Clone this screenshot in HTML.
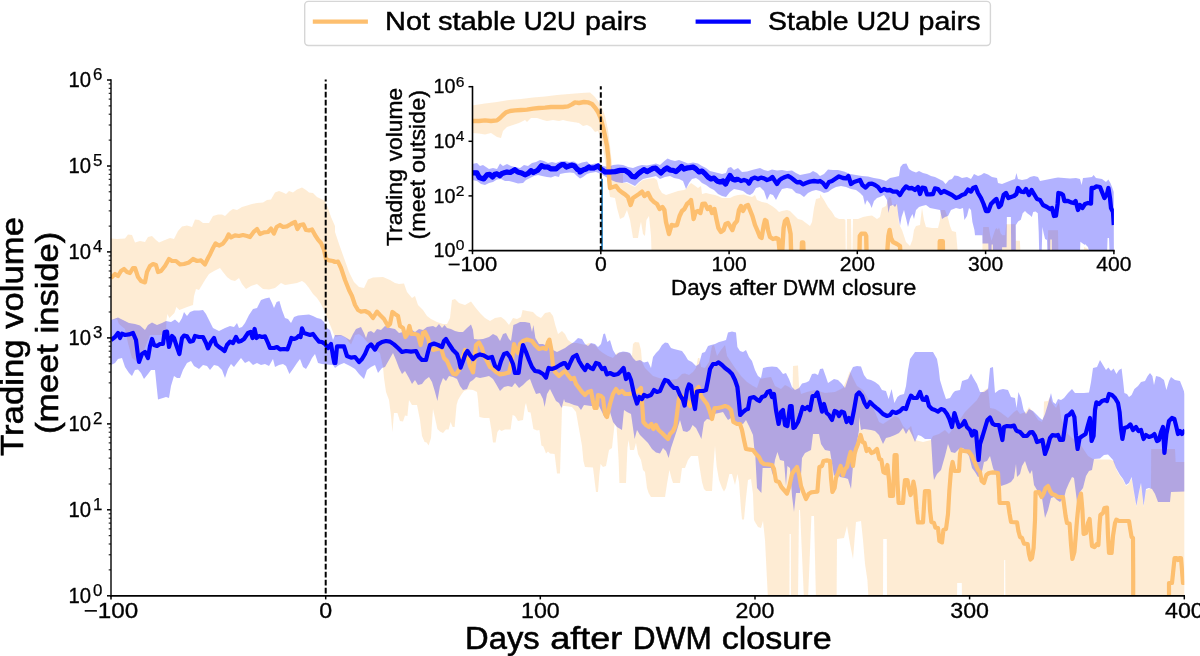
<!DOCTYPE html>
<html><head><meta charset="utf-8"><title>Trading volume</title>
<style>html,body{margin:0;padding:0;background:#fff;overflow:hidden}svg{display:block}text{font-family:"Liberation Sans",sans-serif;fill:#000}</style>
</head><body>
<svg width="1200" height="656" viewBox="0 0 1200 656">
<rect x="0" y="0" width="1200" height="656" fill="#fff"/>
<g opacity="0.9999">
<defs><clipPath id="cm"><rect x="111.0" y="78.0" width="1073.3" height="517.8"/></clipPath>
<clipPath id="ci"><rect x="472.5" y="84.7" width="641.4" height="165.9"/></clipPath></defs>
<g clip-path="url(#cm)">
<polygon points="111.0,238.4 117.0,239.0 125.0,238.6 128.0,234.4 132.0,235.0 135.0,242.4 140.0,241.0 145.0,242.0 148.0,237.0 152.0,236.0 156.0,240.0 159.0,242.4 165.0,240.0 170.0,238.0 174.0,239.0 178.0,231.0 182.0,226.4 187.0,225.6 192.0,227.0 195.0,219.6 199.0,220.0 203.0,223.0 209.0,223.0 213.0,216.0 218.0,214.4 222.0,214.4 225.0,216.0 230.0,211.0 233.0,209.0 237.0,210.0 242.0,207.0 247.0,205.6 252.0,204.0 257.0,203.0 263.0,202.4 267.0,200.0 271.0,199.4 275.0,192.4 279.0,191.0 283.0,192.4 286.0,194.0 289.0,191.0 293.0,192.4 297.0,189.6 302.0,187.6 306.0,190.0 309.0,192.4 313.0,193.0 317.0,197.0 322.0,199.4 325.0,201.0 328.0,208.0 331.0,217.0 335.0,226.0 335.0,232.0 339.0,244.0 344.0,258.0 349.0,272.0 354.0,282.0 359.0,287.0 364.0,288.0 368.0,279.6 373.0,277.6 383.0,277.0 390.0,280.0 395.0,283.0 399.0,284.0 404.0,283.6 407.0,292.0 412.0,298.0 415.0,296.0 418.0,305.0 423.0,310.0 427.0,316.0 431.0,319.0 437.0,322.0 443.0,324.0 447.0,324.0 450.0,318.0 452.0,300.0 455.0,299.0 459.0,303.0 465.0,305.0 471.0,301.6 475.0,307.0 480.0,313.0 485.0,318.0 490.0,321.0 495.0,318.0 501.0,317.0 505.0,320.0 509.0,325.0 513.0,318.0 517.0,319.0 521.0,317.0 522.6,310.0 527.0,311.0 533.0,312.0 537.0,316.0 541.0,318.0 545.0,313.0 550.0,312.0 553.0,316.0 555.0,324.0 558.0,334.0 562.0,331.0 565.0,334.0 568.0,340.0 572.0,343.0 577.0,343.0 585.0,345.0 589.0,343.0 595.0,345.0 599.0,350.0 603.0,353.0 608.0,356.0 613.0,358.0 617.0,353.0 621.0,352.4 625.0,352.0 629.0,353.0 632.0,356.0 633.0,344.0 635.0,342.0 639.0,342.4 641.0,350.0 642.0,362.0 645.0,368.0 649.0,372.0 653.0,376.0 659.0,378.0 665.0,380.0 671.0,380.0 677.0,379.0 682.0,374.0 685.0,373.6 689.0,375.0 693.0,372.0 696.0,368.0 698.0,358.0 699.4,358.0 701.0,367.0 705.0,368.0 709.0,362.0 712.0,346.0 714.0,345.0 717.0,356.0 721.0,350.0 725.0,345.0 727.0,356.0 731.0,362.0 735.0,368.0 741.0,376.0 747.0,382.0 753.0,386.0 757.0,388.0 760.0,379.0 765.0,378.0 771.0,377.0 775.0,386.0 781.0,389.0 785.0,385.0 789.0,387.0 792.6,390.0 793.0,366.0 798.0,365.6 799.0,386.0 801.0,394.0 807.0,392.0 815.0,390.0 825.0,393.0 835.0,392.0 843.0,388.0 847.0,379.0 850.0,371.0 852.0,376.0 857.0,386.0 863.0,390.0 869.0,400.0 875.0,412.0 879.0,422.0 883.0,424.0 889.0,420.0 895.0,416.0 899.0,418.0 903.0,426.0 907.0,430.0 911.0,426.0 915.0,440.0 923.0,442.0 931.0,440.0 933.0,436.0 939.0,434.0 945.0,430.0 949.0,434.0 955.0,426.0 961.0,418.0 965.0,412.0 971.0,406.0 977.0,400.0 981.0,393.0 985.0,390.0 988.0,388.0 988.0,388.0 990.0,408.0 995.0,409.0 1000.0,412.0 1008.0,418.0 1014.0,412.0 1017.0,410.0 1020.0,414.0 1026.0,412.0 1029.0,407.0 1033.0,412.0 1038.0,420.0 1042.0,422.0 1043.6,416.0 1044.0,401.6 1048.0,401.0 1050.0,397.0 1052.0,403.0 1056.0,408.0 1059.0,402.0 1061.0,418.0 1064.0,426.0 1068.0,434.0 1072.0,438.0 1080.0,444.0 1088.0,456.0 1093.0,459.0 1100.0,459.6 1110.0,459.6 1114.0,461.0 1116.0,469.0 1120.0,476.0 1123.0,480.0 1126.0,486.0 1129.0,484.0 1131.6,478.0 1134.0,493.0 1136.4,507.0 1139.0,493.0 1141.0,484.0 1143.6,507.0 1146.0,490.0 1149.0,489.0 1151.0,488.0 1151.2,449.0 1175.0,449.0 1175.6,462.0 1185.0,462.0 1185.0,600.0 1005.4,600.0 1005.2,560.0 1004.2,560.0 1004.0,600.0 962.0,600.0 961.8,583.0 957.2,583.0 957.0,600.0 887.0,600.0 886.8,539.0 883.2,539.0 883.0,600.0 868.6,600.0 867.4,580.0 865.0,564.0 863.0,540.0 861.0,521.0 856.0,522.0 853.0,559.0 850.0,544.0 847.0,526.0 844.0,538.0 837.0,539.0 836.6,600.0 816.0,600.0 814.0,516.0 811.4,516.0 808.0,600.0 804.0,600.0 800.0,510.0 799.0,510.0 798.0,600.0 791.0,600.0 790.8,534.0 789.6,534.0 789.4,600.0 768.0,600.0 767.0,580.0 765.0,540.0 763.0,521.0 761.0,528.0 758.0,527.0 755.0,522.0 754.0,520.0 753.0,494.0 751.0,479.0 748.0,480.0 746.0,498.0 744.0,519.6 742.0,519.6 741.0,509.0 739.0,482.0 737.4,474.0 735.0,485.0 732.0,474.0 729.4,474.0 726.0,488.0 724.0,491.6 722.0,488.0 719.0,480.0 716.6,466.0 715.0,446.0 713.4,466.0 712.0,491.0 706.0,491.0 704.0,489.0 702.0,482.0 699.4,466.0 698.0,456.0 691.0,456.0 688.0,460.0 685.0,468.0 682.0,468.0 680.0,483.0 673.0,483.0 671.4,478.0 669.4,470.0 667.0,484.0 665.0,497.0 651.0,497.0 648.6,493.0 647.0,488.0 645.0,472.0 643.0,470.0 641.0,460.0 638.0,454.0 636.0,443.0 634.0,450.0 630.0,450.0 628.6,440.0 627.4,448.0 626.0,483.0 619.4,483.0 618.6,460.0 616.6,427.0 614.6,424.0 612.0,448.0 609.0,450.0 606.0,466.0 603.0,467.0 600.6,464.0 599.4,474.0 598.0,492.0 596.0,492.0 595.0,484.0 593.0,467.6 585.0,467.0 583.4,461.0 582.0,446.0 579.0,429.0 576.0,412.0 572.0,407.0 565.0,406.0 563.0,406.0 562.0,408.0 560.0,473.6 557.0,473.6 554.6,454.0 550.0,453.6 548.0,451.6 546.0,453.6 543.4,446.4 541.4,445.6 539.4,430.0 537.0,430.4 533.4,429.0 530.6,412.4 528.0,412.0 526.0,403.0 525.0,406.0 523.0,420.0 518.0,421.0 515.0,416.0 512.6,415.0 510.6,429.6 505.0,429.6 501.4,431.0 499.4,429.6 497.4,432.0 495.6,442.4 493.0,442.4 491.4,430.0 489.4,418.0 484.0,418.0 479.4,417.0 478.0,400.0 477.0,392.0 473.0,390.0 468.0,389.6 464.0,391.0 461.0,395.0 458.0,400.0 456.6,405.0 454.6,427.0 452.6,427.0 450.6,422.0 448.6,429.6 446.0,429.6 443.0,433.0 440.0,431.6 437.4,429.0 435.0,418.0 433.0,409.0 431.0,438.0 428.6,445.6 426.6,442.4 424.6,442.0 422.0,436.0 420.0,420.0 417.0,405.0 412.0,405.0 409.0,400.0 407.4,416.0 405.0,415.6 403.0,421.6 400.0,421.0 397.4,413.0 394.0,413.0 392.4,432.0 391.0,416.0 389.0,400.0 386.0,392.0 384.0,378.0 383.0,367.0 380.0,353.0 375.0,350.0 371.0,346.0 367.0,342.0 363.0,337.0 359.0,334.0 355.0,335.0 351.0,344.4 346.0,338.0 341.0,335.6 335.0,337.0 324.0,310.0 321.0,304.0 317.0,298.0 313.0,294.0 309.0,288.0 305.0,283.0 302.0,281.0 297.0,283.0 291.0,284.0 285.0,285.0 281.0,283.0 275.0,288.0 269.0,289.6 263.0,289.0 257.0,284.0 251.0,286.0 246.0,289.0 242.0,284.0 239.0,278.0 235.0,281.0 231.0,280.0 227.0,277.0 223.0,272.0 220.0,268.0 214.0,271.0 209.0,274.0 205.0,280.0 202.0,285.0 199.0,290.0 196.0,289.0 194.0,296.0 193.0,305.0 188.5,306.5 179.4,310.0 176.4,307.0 174.4,313.0 169.4,318.0 167.4,314.0 166.4,320.6 166.0,335.0 160.0,335.0 150.0,335.0 146.0,345.0 139.0,363.0 135.0,360.0 132.0,358.0 128.0,343.0 125.0,329.0 119.0,324.0 117.0,319.0 111.0,320.0" fill="#fdbf6f" fill-opacity="0.3"/>
<polygon points="111.0,320.0 118.0,317.6 123.0,320.0 129.0,323.0 135.0,324.0 140.0,325.6 145.0,330.0 148.0,325.0 152.0,322.4 157.0,325.0 162.0,323.0 166.0,321.0 171.0,322.0 175.0,319.6 179.0,323.0 182.0,318.0 184.0,312.0 187.0,316.0 190.0,312.0 194.0,310.4 199.0,310.6 203.0,310.0 206.0,314.0 209.0,320.0 213.0,328.0 219.0,331.0 225.0,328.0 230.0,326.0 234.0,327.0 237.0,323.0 239.0,328.0 242.0,327.0 245.0,323.0 249.0,315.0 253.0,309.0 257.0,308.0 261.0,300.0 265.0,298.4 269.4,297.6 272.0,303.0 274.0,308.0 276.6,302.0 279.4,301.0 282.0,310.0 285.0,318.0 288.0,319.0 291.0,323.0 294.0,317.0 298.0,315.6 303.0,315.0 309.0,314.4 313.0,316.0 317.0,318.0 321.0,319.0 324.0,322.0 327.0,328.0 330.0,330.0 333.0,340.0 335.0,335.0 341.0,335.0 345.0,337.0 350.0,340.0 353.0,334.0 356.0,329.0 361.0,327.0 364.0,333.0 366.0,338.0 368.0,332.0 371.0,331.0 374.0,333.0 377.0,329.0 381.0,330.0 385.0,326.0 390.0,328.0 395.0,329.0 399.0,333.0 403.0,332.0 407.0,334.0 412.0,330.0 415.0,332.0 419.0,329.0 423.0,330.0 427.0,327.0 433.0,326.0 436.0,327.6 439.0,324.0 442.0,328.0 444.6,325.0 447.0,328.0 451.0,329.0 455.0,331.0 459.0,332.0 463.0,332.0 467.0,328.0 471.0,324.4 473.0,330.0 474.0,339.0 478.0,339.6 483.0,339.0 489.0,337.0 493.0,334.0 497.0,336.0 500.0,341.0 503.0,334.0 506.0,333.0 509.0,339.0 511.0,341.0 513.4,325.0 516.0,324.0 520.0,322.0 525.0,322.0 530.0,323.0 532.0,332.0 533.4,325.0 535.4,338.0 539.0,344.0 543.0,344.0 547.0,346.0 553.0,350.0 557.0,352.0 561.0,350.0 565.0,348.0 569.0,345.0 574.0,342.0 578.0,338.0 582.0,339.0 585.0,344.0 588.0,346.0 591.0,343.0 595.0,344.0 598.0,347.0 601.0,344.0 603.4,334.0 605.0,333.6 607.4,342.0 610.0,340.0 613.0,350.0 616.0,355.0 619.0,352.4 623.0,351.6 627.0,352.0 630.0,353.0 633.0,358.0 636.0,361.0 640.0,360.0 644.0,362.4 648.0,361.6 651.0,368.0 653.0,357.0 656.0,353.0 659.0,350.0 662.0,345.0 665.0,342.4 668.0,343.0 671.0,348.0 674.0,349.0 678.0,350.0 682.0,351.0 685.0,355.0 688.0,360.0 692.0,362.0 696.0,366.0 699.0,364.0 702.0,353.0 705.0,352.0 708.0,346.0 711.0,345.0 715.0,344.0 719.0,342.0 723.0,341.0 726.0,340.0 728.0,332.4 732.0,331.6 736.0,332.4 737.4,347.0 740.0,351.0 743.0,352.0 746.0,350.0 749.0,357.0 752.0,361.0 755.0,370.0 758.0,376.0 761.0,378.0 763.0,368.0 767.0,367.0 772.0,366.6 777.0,367.0 780.0,370.0 783.0,374.0 786.0,373.0 789.0,379.0 792.0,387.0 795.0,390.0 799.0,388.0 802.0,383.6 806.0,382.4 809.0,381.0 812.0,374.0 815.0,373.6 818.0,375.0 820.0,369.0 823.0,368.4 826.0,377.0 828.0,383.0 831.0,381.0 834.0,379.0 838.0,380.0 842.0,384.0 845.0,388.0 848.0,379.0 851.0,371.0 853.0,367.0 857.0,366.0 861.0,366.4 864.0,375.0 867.0,379.0 871.0,380.0 875.0,382.0 879.0,385.0 882.0,390.0 886.0,391.0 888.6,399.0 891.6,389.0 894.4,403.0 897.4,397.0 900.0,395.0 904.0,394.0 906.0,386.0 908.0,370.0 910.0,359.0 915.0,352.0 933.0,352.0 937.0,359.0 938.6,368.0 940.0,380.0 943.0,390.0 946.0,399.0 950.0,398.0 953.0,393.0 955.0,391.0 960.0,390.0 962.0,381.0 965.0,380.0 968.0,379.0 971.0,373.6 974.0,379.0 977.0,384.0 980.0,392.0 984.0,392.0 988.0,389.0 990.0,368.0 993.0,367.0 995.0,393.0 999.0,390.0 1003.0,389.0 1008.0,390.0 1011.0,397.0 1015.0,398.0 1016.6,408.0 1018.4,392.0 1021.0,398.0 1023.6,410.0 1026.0,414.0 1029.0,409.0 1033.0,411.0 1037.0,415.0 1040.0,418.0 1042.4,420.0 1045.0,414.0 1048.0,404.0 1051.0,393.0 1053.0,402.0 1055.6,404.0 1058.0,399.0 1061.0,400.0 1064.0,398.0 1068.0,393.0 1072.0,389.0 1075.0,393.0 1079.0,393.0 1084.0,393.0 1089.0,392.4 1091.0,382.0 1093.0,368.0 1097.0,367.0 1100.0,360.0 1103.0,365.0 1106.0,370.0 1108.4,367.6 1111.0,371.0 1113.6,368.4 1116.4,374.0 1119.0,370.0 1121.6,368.4 1123.0,380.0 1124.4,393.0 1127.0,394.0 1129.0,397.0 1131.6,395.0 1134.4,389.0 1138.0,386.0 1141.0,382.0 1145.0,381.0 1147.6,376.0 1150.0,373.0 1152.4,376.0 1154.0,385.0 1156.0,376.0 1160.0,377.0 1164.0,380.0 1166.4,390.0 1169.0,381.0 1171.0,377.0 1175.0,380.0 1180.0,381.0 1182.4,387.0 1185.0,394.0 1185.0,491.6 1171.0,492.0 1170.0,502.0 1158.0,502.0 1155.0,494.0 1152.0,489.0 1149.0,488.0 1146.0,489.0 1143.6,506.0 1141.0,483.0 1139.0,492.0 1136.4,506.0 1134.0,492.0 1131.6,477.0 1129.0,483.0 1126.0,485.0 1123.0,479.0 1120.0,475.0 1116.0,468.0 1113.0,460.0 1108.0,454.4 1104.0,455.0 1100.0,458.4 1094.0,459.0 1092.0,470.0 1089.0,471.0 1086.0,476.0 1083.0,488.0 1080.0,492.0 1077.0,502.0 1074.0,478.0 1072.0,477.0 1069.0,483.0 1066.0,490.0 1064.0,498.0 1060.0,502.0 1057.0,500.0 1054.0,497.0 1051.0,498.0 1048.0,510.0 1045.0,518.0 1042.0,498.0 1040.0,495.0 1037.0,490.0 1034.0,485.0 1032.0,470.0 1030.0,474.0 1028.0,470.0 1025.0,461.0 1022.0,466.0 1020.0,474.0 1017.0,477.0 1016.0,464.0 1014.0,478.0 1011.0,482.0 1007.0,484.0 1001.0,486.0 997.0,478.0 993.0,468.0 990.0,456.0 987.0,461.0 984.0,462.0 981.0,476.0 978.0,477.0 975.0,472.0 972.0,468.0 969.0,456.0 963.0,448.0 959.0,449.0 955.0,453.0 951.0,452.0 948.0,444.0 945.0,456.0 941.0,470.0 937.0,474.0 934.0,480.0 933.0,472.0 931.0,439.0 925.0,439.0 921.0,436.0 918.0,435.0 915.0,442.0 912.0,435.0 909.0,429.0 906.0,434.0 903.0,428.0 899.0,433.0 895.0,435.0 890.0,437.0 886.0,438.0 883.0,444.0 879.0,435.0 875.0,431.0 871.0,430.0 864.0,429.0 861.0,430.0 859.0,417.0 859.0,430.0 857.0,442.0 855.0,450.0 853.0,466.0 851.0,489.0 848.0,479.0 845.0,478.0 840.0,477.0 837.0,473.0 834.0,476.0 830.0,451.0 825.0,450.0 821.0,444.0 819.0,434.0 813.0,434.0 811.0,450.0 805.0,453.0 802.0,458.0 800.0,493.0 796.0,493.0 794.0,512.0 792.0,496.0 790.0,468.0 787.4,466.0 786.0,486.0 784.0,461.0 780.0,460.0 777.4,452.0 775.0,460.0 772.6,475.0 771.0,468.0 762.6,468.0 761.4,493.0 757.0,488.0 755.0,450.0 755.0,456.0 753.0,435.0 749.0,426.0 746.0,420.0 743.0,424.0 739.0,423.0 734.0,422.0 731.0,418.0 728.0,420.0 726.0,417.0 723.0,412.0 719.0,413.0 714.0,414.0 711.0,420.0 707.0,419.0 704.0,422.0 701.4,439.0 699.0,434.0 696.0,428.0 692.6,425.0 690.0,430.0 687.0,432.0 683.0,431.0 680.0,420.0 677.0,430.0 674.0,439.0 671.0,448.0 668.6,458.0 666.0,451.0 663.0,448.0 660.0,453.6 656.0,452.4 652.0,449.0 648.0,443.0 644.0,439.0 640.0,435.0 637.0,430.0 634.6,439.0 631.0,414.0 627.0,412.0 624.0,410.0 622.0,430.0 617.0,427.0 613.0,422.0 610.0,412.0 605.0,418.0 599.0,406.0 591.0,406.0 584.0,405.0 581.0,410.0 578.0,406.0 574.0,405.0 569.0,403.0 565.0,402.0 564.0,399.0 561.6,408.0 559.0,403.0 556.0,401.0 553.0,395.0 550.0,389.0 547.0,394.0 544.6,407.0 543.0,399.0 540.0,393.0 536.0,394.0 533.0,387.0 530.0,379.0 527.0,381.0 523.0,385.0 519.0,388.0 515.0,383.0 512.0,387.0 508.0,386.0 504.0,387.0 500.0,391.0 496.0,384.0 493.0,379.0 489.0,376.0 485.0,377.0 480.0,378.0 476.0,377.0 473.0,380.0 470.0,382.0 467.0,389.0 463.0,390.0 460.0,386.0 457.0,379.0 453.0,377.0 449.0,376.0 446.0,381.0 443.0,378.0 440.0,386.0 437.4,401.0 435.0,392.0 432.0,382.0 429.0,377.0 425.0,380.0 422.0,384.0 418.0,385.0 415.0,380.0 412.0,384.0 409.0,378.0 405.0,371.0 402.0,374.0 399.0,368.0 396.0,360.0 393.0,353.0 389.0,360.0 385.0,367.0 382.0,368.0 378.0,373.0 375.0,365.0 371.0,367.0 367.0,370.0 364.0,379.0 359.0,374.0 355.0,369.0 350.0,366.0 344.0,363.0 339.0,365.0 335.0,368.0 333.0,365.0 327.0,364.4 322.0,364.0 318.0,363.0 315.0,354.0 312.0,358.0 309.0,364.0 306.0,369.0 303.0,367.0 300.0,359.0 297.0,363.0 293.0,369.0 289.4,374.0 286.0,366.0 283.0,364.0 279.0,365.0 275.0,367.0 273.0,359.0 269.0,366.0 265.0,364.0 261.0,365.0 257.0,363.0 253.0,365.0 249.0,361.0 245.0,363.0 241.0,358.0 237.0,363.0 234.0,367.0 231.0,364.0 228.0,369.0 225.0,378.0 222.0,370.0 218.0,366.0 214.0,365.0 210.0,370.0 207.0,366.0 203.0,365.0 199.0,369.0 194.0,366.0 191.0,361.0 187.0,363.0 183.0,370.0 180.0,378.0 177.0,378.0 174.0,376.0 171.0,386.0 169.0,398.0 166.0,397.0 163.0,398.0 158.0,399.6 156.6,386.0 155.0,370.0 151.0,370.0 148.0,374.0 144.0,379.0 141.0,373.0 138.0,369.6 135.0,370.0 132.0,376.0 129.0,373.0 125.0,367.0 122.0,358.0 118.0,359.0 115.0,363.0 111.0,365.0" fill="#0000ff" fill-opacity="0.3"/>
<polyline points="111.0,278.0 115.0,274.0 118.0,276.0 121.0,271.0 124.0,269.0 127.0,272.0 130.0,273.0 133.0,268.0 135.0,268.0 138.0,277.0 141.0,281.0 145.0,282.4 147.0,272.0 150.0,266.0 153.0,264.0 156.0,265.0 158.0,272.0 161.0,271.0 165.0,266.0 169.0,259.0 172.0,261.0 176.0,261.0 180.0,264.4 184.0,264.0 189.0,262.4 193.0,259.0 197.0,261.0 201.0,260.4 205.0,264.4 208.0,258.0 210.0,254.4 213.0,248.0 215.6,243.4 219.0,245.6 223.0,243.6 226.4,239.0 228.6,234.4 231.0,237.4 235.0,235.4 239.0,236.0 243.0,235.0 247.0,236.0 250.0,237.0 254.0,231.6 257.0,229.0 260.0,234.0 264.0,232.4 268.0,232.0 271.0,228.6 274.0,233.6 276.6,227.0 280.0,225.0 283.0,227.0 287.0,226.4 291.0,224.0 295.0,222.0 297.4,229.0 300.0,225.0 303.4,224.4 306.0,230.0 309.0,230.4 312.0,229.4 315.0,235.0 318.0,239.6 321.0,243.0 324.0,250.0 326.0,259.0 329.0,260.4 333.0,261.0 335.0,262.0 338.0,261.6 341.0,268.0 345.0,280.0 349.0,290.0 352.0,296.0 355.0,305.0 358.0,310.0 361.0,311.6 365.0,311.0 369.0,313.0 373.0,318.0 377.0,311.6 380.0,315.0 384.0,319.0 388.0,326.0 390.0,324.0 392.4,312.0 395.0,314.0 398.0,316.0 400.0,326.0 403.0,328.0 405.4,337.0 407.4,334.0 409.4,326.0 411.4,334.0 415.0,334.0 418.0,335.0 420.6,345.0 423.0,333.0 425.0,332.0 428.0,338.0 430.6,348.0 433.0,350.0 437.0,349.0 441.0,348.0 444.0,358.0 447.0,361.0 450.0,368.0 453.0,373.6 456.0,374.4 459.0,370.0 462.0,360.0 465.0,350.0 467.0,354.0 470.0,366.0 473.0,372.4 475.0,356.0 476.0,345.0 479.0,342.4 482.0,348.0 484.0,356.0 487.0,361.0 490.0,367.0 493.0,369.0 496.0,372.0 500.0,374.4 505.0,373.6 509.0,372.4 512.0,360.0 514.0,344.0 516.0,350.0 518.0,353.0 520.0,344.0 523.0,341.0 527.0,339.6 532.0,341.0 535.0,345.0 539.0,349.0 543.0,348.0 546.0,349.0 548.0,342.0 549.4,339.6 551.4,350.0 553.0,366.0 555.0,372.0 559.0,376.0 563.0,372.4 565.0,371.0 568.0,375.0 571.0,379.0 574.0,378.0 576.0,384.0 579.0,388.0 582.0,392.0 585.0,395.0 588.0,392.0 591.0,391.0 593.0,401.0 594.6,408.0 596.6,408.0 598.0,395.0 601.0,396.0 603.0,398.0 605.0,414.0 607.0,417.0 610.0,404.0 613.0,394.0 616.0,389.0 619.0,393.0 622.0,391.0 625.0,394.0 629.0,394.0 634.0,393.0 638.0,391.0 641.0,388.0 642.0,402.0 643.4,422.0 646.0,425.0 649.0,427.0 651.4,424.0 653.4,429.0 656.0,425.0 658.6,430.0 662.0,433.0 665.0,436.0 668.0,439.0 670.0,434.0 673.0,431.0 675.4,426.0 677.0,414.0 678.6,401.0 680.0,395.0 685.0,398.0 690.0,406.0 693.0,398.0 696.0,390.0 698.6,387.0 701.0,396.0 704.0,400.0 707.0,404.0 709.4,410.0 712.0,419.0 714.6,408.0 718.0,408.0 722.0,407.0 725.0,406.0 728.0,407.0 731.0,410.0 733.4,422.0 737.0,424.0 740.0,424.0 742.0,430.0 742.0,430.0 744.0,440.0 746.0,449.0 750.0,449.6 753.0,450.0 756.0,454.0 759.0,457.0 761.4,462.0 764.0,464.0 768.0,464.4 772.0,465.0 774.0,469.0 776.0,481.0 779.0,482.0 781.4,487.0 784.0,490.0 787.0,493.6 789.4,486.0 792.0,474.0 794.6,470.0 797.0,467.0 799.0,474.0 801.0,486.0 804.0,494.0 806.0,499.0 808.6,494.0 811.0,492.4 814.0,492.0 817.4,491.6 818.6,476.0 819.4,467.0 822.0,466.0 823.4,461.0 827.0,460.4 830.0,461.0 831.0,478.0 832.4,492.0 834.6,488.0 836.0,478.0 838.0,473.0 840.6,466.0 843.0,475.0 845.0,469.0 847.0,467.0 849.0,458.0 850.6,452.0 853.0,466.0 854.6,454.0 856.0,449.0 858.0,444.0 860.6,435.0 862.6,442.0 864.6,443.0 866.6,451.0 869.0,449.0 871.4,453.0 874.0,452.0 877.0,449.0 879.4,459.0 881.4,460.0 883.4,472.0 885.4,473.0 887.4,465.0 889.0,480.0 890.0,496.0 893.0,496.0 894.0,470.0 894.6,455.0 896.6,455.0 897.4,480.0 898.6,503.0 903.0,503.0 904.0,490.0 905.0,480.0 907.4,480.0 909.0,488.0 910.6,495.0 912.6,490.0 913.4,481.6 915.0,490.0 916.6,510.0 918.0,522.4 923.0,522.4 924.0,506.0 925.0,491.0 929.0,491.0 930.0,510.0 931.4,522.0 934.0,523.0 935.4,527.6 938.0,528.0 939.4,541.0 942.0,542.4 943.4,530.0 946.0,529.0 948.0,514.0 949.4,490.0 951.0,470.0 952.6,462.0 954.6,471.0 959.0,471.0 960.0,454.0 961.0,449.6 961.0,450.0 964.0,451.0 969.0,451.6 972.0,456.0 975.0,463.0 978.0,470.0 980.0,472.0 981.6,481.0 984.0,483.0 986.4,475.0 989.0,473.0 993.0,472.4 998.0,473.0 999.0,490.0 999.6,503.0 1004.0,503.0 1008.0,503.0 1009.6,514.0 1011.0,522.0 1017.0,522.4 1018.4,531.0 1020.0,537.0 1022.0,538.0 1024.0,543.6 1027.6,544.0 1029.0,554.0 1030.4,559.6 1032.0,558.0 1033.6,548.0 1035.0,520.0 1035.6,492.4 1039.0,492.0 1041.6,497.0 1043.6,493.6 1045.6,488.0 1048.0,486.0 1050.0,491.0 1052.0,494.0 1055.0,495.0 1058.0,497.0 1063.0,497.0 1064.0,504.0 1065.6,516.0 1067.0,523.0 1069.6,523.6 1071.0,544.0 1072.4,559.0 1074.4,552.0 1075.6,538.0 1077.0,520.0 1079.0,500.0 1081.0,493.6 1082.4,510.0 1083.6,534.0 1086.0,533.0 1088.0,523.0 1089.6,519.0 1091.0,536.0 1092.0,546.0 1094.4,547.0 1097.0,544.0 1098.4,545.0 1099.6,524.0 1100.4,515.0 1103.0,513.0 1104.4,508.0 1107.0,507.6 1108.0,536.0 1109.0,553.0 1111.6,553.0 1113.0,536.0 1115.0,523.0 1116.4,519.6 1119.0,521.0 1129.0,521.0 1130.4,530.0 1131.6,537.0 1133.0,538.0 1133.2,571.0 1133.2,602.0 1169.0,602.0 1169.0,583.0 1172.0,583.0 1174.6,558.0 1176.6,558.0 1178.0,560.0 1179.4,558.0 1181.0,558.0 1183.0,583.0 1186.0,583.0" fill="none" stroke="#fdbf6f" stroke-width="4.2" stroke-linejoin="round" stroke-linecap="butt"/>
<polyline points="111.0,340.0 115.0,337.0 118.0,333.0 120.0,338.0 122.0,333.6 125.0,335.0 129.0,334.4 133.0,333.0 136.0,340.0 138.0,356.0 139.0,362.0 142.0,354.0 145.0,352.0 148.0,358.0 150.0,346.0 152.0,339.0 154.0,345.0 157.0,346.0 160.0,344.0 163.0,344.0 164.6,332.0 167.0,331.6 169.0,347.0 172.0,336.0 174.0,338.0 176.6,346.0 179.4,354.0 182.0,338.0 184.0,335.6 187.0,336.4 190.0,341.6 193.0,341.0 195.0,336.0 199.0,337.0 203.0,337.0 206.0,343.0 208.0,348.4 211.0,342.0 214.0,338.0 216.0,344.4 219.0,347.0 222.0,349.0 224.6,351.0 227.0,345.0 230.0,341.6 233.0,343.0 236.0,337.0 238.6,341.6 241.0,341.0 244.0,339.0 248.0,333.0 250.6,332.0 252.6,338.0 254.6,329.0 256.6,338.0 259.0,336.0 262.0,337.0 265.0,336.4 268.0,343.0 270.0,348.0 274.0,348.0 277.0,347.0 280.0,349.4 284.0,349.0 287.4,349.4 289.4,344.0 291.4,338.0 294.0,339.0 296.6,338.0 298.6,336.0 300.6,337.0 302.0,328.4 304.0,333.0 307.0,334.0 310.0,335.0 313.0,334.0 316.0,338.0 319.0,341.6 322.0,342.0 325.0,344.0 328.0,348.0 331.0,344.0 333.0,356.0 334.4,363.0 335.4,363.0 337.0,346.4 344.0,346.4 347.0,356.0 351.0,357.6 355.0,357.0 359.0,362.0 362.0,359.0 365.0,354.0 368.0,347.0 371.0,344.4 375.0,349.6 378.0,344.4 382.0,342.0 386.0,341.0 390.0,341.6 394.0,344.4 398.0,348.0 402.0,352.0 406.0,351.0 411.0,351.6 416.0,351.0 419.0,357.0 422.0,360.0 426.0,360.0 428.0,352.0 430.0,345.0 434.0,343.6 438.0,345.0 442.0,347.0 444.0,341.0 446.0,339.0 449.0,344.0 453.0,350.0 457.0,354.0 459.0,360.0 460.6,367.6 463.0,361.0 465.4,354.0 467.4,351.0 470.0,355.0 473.0,359.0 476.0,356.0 480.0,354.4 484.0,355.6 488.0,358.0 492.0,357.0 495.0,366.0 498.6,369.0 501.0,361.0 504.0,354.0 507.0,353.0 510.0,357.0 513.0,364.0 515.0,373.0 518.6,373.0 520.6,358.0 523.0,345.0 526.0,352.0 529.0,360.0 532.0,367.0 535.0,371.0 539.0,371.6 543.0,374.0 546.0,377.6 548.6,368.0 552.0,369.0 556.0,367.6 560.0,365.0 564.0,363.0 565.0,363.0 568.0,368.0 570.6,362.0 573.0,357.0 576.6,355.0 579.0,361.0 582.0,366.0 585.0,370.0 587.4,365.0 590.6,368.0 593.0,369.0 596.0,363.0 599.0,364.0 602.0,369.0 604.6,368.0 607.0,374.4 610.0,373.0 614.0,375.0 618.0,374.0 621.0,371.0 623.6,368.0 626.0,379.0 628.6,374.0 631.0,380.0 634.0,394.0 637.0,403.6 639.4,397.0 642.0,399.0 644.0,395.0 647.0,396.4 651.0,395.0 654.0,390.0 657.0,392.0 660.0,391.0 663.0,384.0 665.0,380.0 668.0,381.0 671.0,385.0 674.0,388.0 677.0,388.0 680.0,395.0 683.0,400.0 684.6,405.6 687.0,390.0 689.0,384.4 691.0,386.0 693.0,400.0 695.0,409.0 697.0,391.6 700.0,391.0 703.0,391.0 706.0,390.0 708.0,380.0 710.0,369.0 713.0,364.0 716.0,364.0 718.6,362.4 722.0,365.0 725.0,368.0 729.0,371.0 732.0,374.0 735.0,380.0 737.4,387.0 739.0,402.0 740.2,415.0 743.0,412.0 746.0,409.6 748.0,409.0 750.0,398.0 754.0,397.0 757.0,399.6 759.4,401.0 762.0,397.0 765.0,396.0 767.4,392.0 770.0,391.0 772.0,397.0 774.0,394.0 776.0,410.0 778.6,424.0 781.0,412.0 783.0,410.0 785.0,425.0 787.4,426.0 790.0,406.0 791.6,406.0 793.4,428.0 795.0,427.0 798.0,422.0 800.6,414.0 802.6,407.0 805.0,409.0 807.4,407.0 810.0,410.0 812.6,396.0 815.0,396.0 817.4,392.4 820.0,403.0 822.0,411.6 824.0,404.0 826.6,413.0 829.0,415.0 832.0,420.0 834.6,411.0 837.0,412.0 839.0,416.0 841.4,411.6 844.0,412.4 846.6,422.0 849.0,418.0 851.4,423.0 854.0,410.0 856.6,395.0 859.0,392.4 862.0,396.0 864.6,403.0 867.0,407.0 870.0,402.0 873.0,405.0 876.0,407.6 879.0,410.0 883.0,414.0 887.0,416.0 890.0,415.0 892.6,411.6 896.0,413.0 900.0,411.0 903.0,408.0 906.0,409.0 908.6,401.0 911.0,395.6 913.4,398.0 917.0,398.0 920.0,392.0 922.6,399.6 925.0,400.0 926.6,397.0 929.0,406.0 932.0,409.0 935.0,410.0 938.0,411.6 941.0,409.0 944.0,410.0 947.0,414.0 949.4,419.0 952.0,427.0 954.4,413.0 956.6,420.0 959.0,427.0 962.0,425.0 964.6,421.0 967.0,427.0 970.0,430.0 972.0,435.6 974.0,431.0 976.0,432.0 977.4,448.0 978.6,460.0 980.0,444.0 982.6,436.0 985.0,428.0 987.4,420.0 990.0,417.6 992.6,423.6 995.0,425.0 999.0,425.0 1001.0,434.0 1002.4,440.0 1004.0,427.0 1007.0,426.0 1011.0,426.4 1014.0,425.6 1016.0,430.0 1017.0,431.0 1020.0,432.0 1023.6,436.0 1027.0,436.0 1030.0,432.4 1032.4,432.0 1035.0,436.0 1037.0,442.0 1040.0,441.0 1042.4,440.0 1045.0,454.0 1047.6,447.0 1050.0,438.0 1052.4,435.0 1055.6,435.6 1058.0,435.0 1060.0,440.0 1063.0,440.0 1064.4,430.0 1066.4,416.0 1069.0,415.0 1072.0,411.6 1074.4,417.0 1076.0,436.0 1077.6,449.0 1079.6,438.0 1082.4,436.0 1085.6,434.0 1088.0,425.0 1090.0,418.0 1091.6,441.0 1093.6,436.0 1095.0,410.0 1096.4,402.4 1099.0,404.0 1102.0,401.0 1105.0,400.0 1107.0,401.0 1109.0,394.0 1112.0,395.0 1115.0,398.0 1118.0,403.0 1119.6,412.0 1121.0,429.0 1122.4,439.0 1124.4,428.0 1127.6,427.0 1130.4,424.4 1133.0,430.0 1136.0,427.0 1138.4,431.0 1141.0,430.0 1143.6,439.0 1146.0,435.0 1149.0,437.0 1152.0,436.0 1154.4,434.0 1157.0,441.0 1159.0,440.0 1161.0,432.0 1163.0,427.0 1164.4,453.0 1166.4,434.0 1169.0,421.0 1172.0,418.0 1174.4,419.0 1176.4,427.0 1178.0,434.0 1180.0,431.0 1182.0,434.0 1185.0,430.0" fill="none" stroke="#0000ff" stroke-width="4.2" stroke-linejoin="round" stroke-linecap="butt"/>
</g>
<line x1="325.7" y1="79.5" x2="325.7" y2="595.8" stroke="#000" stroke-width="2.0" stroke-dasharray="5.9,2.1" stroke-dashoffset="3.8"/>
<line x1="111.0" y1="79.2" x2="111.0" y2="596.7" stroke="#000" stroke-width="1.4"/>
<line x1="110.30" y1="595.85" x2="1185.00" y2="595.85" stroke="#000" stroke-width="1.8"/>
<line x1="111.0" y1="595.8" x2="111.0" y2="599.4" stroke="#000" stroke-width="1.5"/>
<line x1="325.7" y1="595.8" x2="325.7" y2="599.4" stroke="#000" stroke-width="1.5"/>
<line x1="540.3" y1="595.8" x2="540.3" y2="599.4" stroke="#000" stroke-width="1.5"/>
<line x1="755.0" y1="595.8" x2="755.0" y2="599.4" stroke="#000" stroke-width="1.5"/>
<line x1="969.6" y1="595.8" x2="969.6" y2="599.4" stroke="#000" stroke-width="1.5"/>
<line x1="1184.3" y1="595.8" x2="1184.3" y2="599.4" stroke="#000" stroke-width="1.5"/>
<line x1="107.0" y1="595.8" x2="111.0" y2="595.8" stroke="#000" stroke-width="1.5"/>
<line x1="108.7" y1="569.9" x2="111.0" y2="569.9" stroke="#000" stroke-width="1.0"/>
<line x1="108.7" y1="554.8" x2="111.0" y2="554.8" stroke="#000" stroke-width="1.0"/>
<line x1="108.7" y1="544.0" x2="111.0" y2="544.0" stroke="#000" stroke-width="1.0"/>
<line x1="108.7" y1="535.7" x2="111.0" y2="535.7" stroke="#000" stroke-width="1.0"/>
<line x1="108.7" y1="528.9" x2="111.0" y2="528.9" stroke="#000" stroke-width="1.0"/>
<line x1="108.7" y1="523.1" x2="111.0" y2="523.1" stroke="#000" stroke-width="1.0"/>
<line x1="108.7" y1="518.2" x2="111.0" y2="518.2" stroke="#000" stroke-width="1.0"/>
<line x1="108.7" y1="513.8" x2="111.0" y2="513.8" stroke="#000" stroke-width="1.0"/>
<line x1="107.0" y1="509.8" x2="111.0" y2="509.8" stroke="#000" stroke-width="1.5"/>
<line x1="108.7" y1="484.0" x2="111.0" y2="484.0" stroke="#000" stroke-width="1.0"/>
<line x1="108.7" y1="468.8" x2="111.0" y2="468.8" stroke="#000" stroke-width="1.0"/>
<line x1="108.7" y1="458.1" x2="111.0" y2="458.1" stroke="#000" stroke-width="1.0"/>
<line x1="108.7" y1="449.7" x2="111.0" y2="449.7" stroke="#000" stroke-width="1.0"/>
<line x1="108.7" y1="442.9" x2="111.0" y2="442.9" stroke="#000" stroke-width="1.0"/>
<line x1="108.7" y1="437.2" x2="111.0" y2="437.2" stroke="#000" stroke-width="1.0"/>
<line x1="108.7" y1="432.2" x2="111.0" y2="432.2" stroke="#000" stroke-width="1.0"/>
<line x1="108.7" y1="427.8" x2="111.0" y2="427.8" stroke="#000" stroke-width="1.0"/>
<line x1="107.0" y1="423.9" x2="111.0" y2="423.9" stroke="#000" stroke-width="1.5"/>
<line x1="108.7" y1="398.0" x2="111.0" y2="398.0" stroke="#000" stroke-width="1.0"/>
<line x1="108.7" y1="382.9" x2="111.0" y2="382.9" stroke="#000" stroke-width="1.0"/>
<line x1="108.7" y1="372.1" x2="111.0" y2="372.1" stroke="#000" stroke-width="1.0"/>
<line x1="108.7" y1="363.8" x2="111.0" y2="363.8" stroke="#000" stroke-width="1.0"/>
<line x1="108.7" y1="357.0" x2="111.0" y2="357.0" stroke="#000" stroke-width="1.0"/>
<line x1="108.7" y1="351.2" x2="111.0" y2="351.2" stroke="#000" stroke-width="1.0"/>
<line x1="108.7" y1="346.2" x2="111.0" y2="346.2" stroke="#000" stroke-width="1.0"/>
<line x1="108.7" y1="341.8" x2="111.0" y2="341.8" stroke="#000" stroke-width="1.0"/>
<line x1="107.0" y1="337.9" x2="111.0" y2="337.9" stroke="#000" stroke-width="1.5"/>
<line x1="108.7" y1="312.0" x2="111.0" y2="312.0" stroke="#000" stroke-width="1.0"/>
<line x1="108.7" y1="296.9" x2="111.0" y2="296.9" stroke="#000" stroke-width="1.0"/>
<line x1="108.7" y1="286.1" x2="111.0" y2="286.1" stroke="#000" stroke-width="1.0"/>
<line x1="108.7" y1="277.8" x2="111.0" y2="277.8" stroke="#000" stroke-width="1.0"/>
<line x1="108.7" y1="271.0" x2="111.0" y2="271.0" stroke="#000" stroke-width="1.0"/>
<line x1="108.7" y1="265.2" x2="111.0" y2="265.2" stroke="#000" stroke-width="1.0"/>
<line x1="108.7" y1="260.3" x2="111.0" y2="260.3" stroke="#000" stroke-width="1.0"/>
<line x1="108.7" y1="255.9" x2="111.0" y2="255.9" stroke="#000" stroke-width="1.0"/>
<line x1="107.0" y1="251.9" x2="111.0" y2="251.9" stroke="#000" stroke-width="1.5"/>
<line x1="108.7" y1="226.1" x2="111.0" y2="226.1" stroke="#000" stroke-width="1.0"/>
<line x1="108.7" y1="210.9" x2="111.0" y2="210.9" stroke="#000" stroke-width="1.0"/>
<line x1="108.7" y1="200.2" x2="111.0" y2="200.2" stroke="#000" stroke-width="1.0"/>
<line x1="108.7" y1="191.8" x2="111.0" y2="191.8" stroke="#000" stroke-width="1.0"/>
<line x1="108.7" y1="185.0" x2="111.0" y2="185.0" stroke="#000" stroke-width="1.0"/>
<line x1="108.7" y1="179.3" x2="111.0" y2="179.3" stroke="#000" stroke-width="1.0"/>
<line x1="108.7" y1="174.3" x2="111.0" y2="174.3" stroke="#000" stroke-width="1.0"/>
<line x1="108.7" y1="169.9" x2="111.0" y2="169.9" stroke="#000" stroke-width="1.0"/>
<line x1="107.0" y1="166.0" x2="111.0" y2="166.0" stroke="#000" stroke-width="1.5"/>
<line x1="108.7" y1="140.1" x2="111.0" y2="140.1" stroke="#000" stroke-width="1.0"/>
<line x1="108.7" y1="125.0" x2="111.0" y2="125.0" stroke="#000" stroke-width="1.0"/>
<line x1="108.7" y1="114.2" x2="111.0" y2="114.2" stroke="#000" stroke-width="1.0"/>
<line x1="108.7" y1="105.9" x2="111.0" y2="105.9" stroke="#000" stroke-width="1.0"/>
<line x1="108.7" y1="99.1" x2="111.0" y2="99.1" stroke="#000" stroke-width="1.0"/>
<line x1="108.7" y1="93.3" x2="111.0" y2="93.3" stroke="#000" stroke-width="1.0"/>
<line x1="108.7" y1="88.3" x2="111.0" y2="88.3" stroke="#000" stroke-width="1.0"/>
<line x1="108.7" y1="83.9" x2="111.0" y2="83.9" stroke="#000" stroke-width="1.0"/>
<line x1="107.0" y1="80.0" x2="111.0" y2="80.0" stroke="#000" stroke-width="1.5"/>
<text x="68.4" y="603.1" font-size="21.5" stroke="#000" stroke-width="0.34" text-anchor="start" textLength="22.6" lengthAdjust="spacingAndGlyphs" >10</text>
<text x="93.0" y="596.1" font-size="15.7" stroke="#000" stroke-width="0.25" text-anchor="start" textLength="9.4" lengthAdjust="spacingAndGlyphs" >0</text>
<text x="68.4" y="517.1" font-size="21.5" stroke="#000" stroke-width="0.34" text-anchor="start" textLength="22.6" lengthAdjust="spacingAndGlyphs" >10</text>
<text x="93.0" y="510.1" font-size="15.7" stroke="#000" stroke-width="0.25" text-anchor="start" textLength="9.4" lengthAdjust="spacingAndGlyphs" >1</text>
<text x="68.4" y="431.2" font-size="21.5" stroke="#000" stroke-width="0.34" text-anchor="start" textLength="22.6" lengthAdjust="spacingAndGlyphs" >10</text>
<text x="93.0" y="424.2" font-size="15.7" stroke="#000" stroke-width="0.25" text-anchor="start" textLength="9.4" lengthAdjust="spacingAndGlyphs" >2</text>
<text x="68.4" y="345.2" font-size="21.5" stroke="#000" stroke-width="0.34" text-anchor="start" textLength="22.6" lengthAdjust="spacingAndGlyphs" >10</text>
<text x="93.0" y="338.2" font-size="15.7" stroke="#000" stroke-width="0.25" text-anchor="start" textLength="9.4" lengthAdjust="spacingAndGlyphs" >3</text>
<text x="68.4" y="259.2" font-size="21.5" stroke="#000" stroke-width="0.34" text-anchor="start" textLength="22.6" lengthAdjust="spacingAndGlyphs" >10</text>
<text x="93.0" y="252.2" font-size="15.7" stroke="#000" stroke-width="0.25" text-anchor="start" textLength="9.4" lengthAdjust="spacingAndGlyphs" >4</text>
<text x="68.4" y="173.3" font-size="21.5" stroke="#000" stroke-width="0.34" text-anchor="start" textLength="22.6" lengthAdjust="spacingAndGlyphs" >10</text>
<text x="93.0" y="166.3" font-size="15.7" stroke="#000" stroke-width="0.25" text-anchor="start" textLength="9.4" lengthAdjust="spacingAndGlyphs" >5</text>
<text x="68.4" y="87.3" font-size="21.5" stroke="#000" stroke-width="0.34" text-anchor="start" textLength="22.6" lengthAdjust="spacingAndGlyphs" >10</text>
<text x="93.0" y="80.3" font-size="15.7" stroke="#000" stroke-width="0.25" text-anchor="start" textLength="9.4" lengthAdjust="spacingAndGlyphs" >6</text>
<text x="83.7" y="618.4" font-size="21.5" stroke="#000" stroke-width="0.34" text-anchor="start" textLength="54.6" lengthAdjust="spacingAndGlyphs" >−100</text>
<text x="319.2" y="618.4" font-size="21.5" stroke="#000" stroke-width="0.34" text-anchor="start" textLength="12.9" lengthAdjust="spacingAndGlyphs" >0</text>
<text x="521.0" y="618.4" font-size="21.5" stroke="#000" stroke-width="0.34" text-anchor="start" textLength="38.7" lengthAdjust="spacingAndGlyphs" >100</text>
<text x="735.6" y="618.4" font-size="21.5" stroke="#000" stroke-width="0.34" text-anchor="start" textLength="38.7" lengthAdjust="spacingAndGlyphs" >200</text>
<text x="950.3" y="618.4" font-size="21.5" stroke="#000" stroke-width="0.34" text-anchor="start" textLength="38.7" lengthAdjust="spacingAndGlyphs" >300</text>
<text x="1165.0" y="618.4" font-size="21.5" stroke="#000" stroke-width="0.34" text-anchor="start" textLength="38.7" lengthAdjust="spacingAndGlyphs" >400</text>
<rect x="304.7" y="1.4" width="685.7" height="44.1" rx="3.7" ry="3.7" fill="#fff" stroke="#d6d6d6" stroke-width="1.4"/>
<line x1="312.8" y1="21.6" x2="367.9" y2="21.6" stroke="#fdbf6f" stroke-width="4.3"/>
<line x1="695.6" y1="21.6" x2="750.8" y2="21.6" stroke="#0000ff" stroke-width="4.3"/>
<rect x="472.5" y="86.7" width="641.4" height="163.9" fill="#fff"/>
<g clip-path="url(#ci)">
<polygon points="472.0,105.6 485.0,103.6 497.0,102.0 509.0,100.0 521.0,99.0 533.0,97.6 545.0,96.4 557.0,95.0 569.0,94.0 581.0,93.0 590.0,92.4 594.0,96.0 598.0,101.0 602.0,108.0 605.0,116.0 608.0,130.0 610.0,146.0 612.0,164.0 612.0,173.0 623.0,173.0 623.0,183.0 627.0,183.0 631.0,185.0 635.0,187.0 639.0,183.0 643.0,180.0 648.0,179.0 654.0,178.0 657.0,180.0 659.0,188.0 662.0,193.0 666.0,195.0 672.0,193.0 678.0,191.0 684.0,190.0 686.0,189.0 689.0,185.0 691.0,183.0 694.0,185.0 698.0,188.0 701.0,186.0 702.0,194.0 706.0,193.0 710.0,194.0 715.0,195.0 718.0,196.0 722.0,198.0 730.0,198.0 734.0,196.0 738.0,195.0 744.0,194.4 748.0,196.0 752.0,197.0 755.0,195.0 757.0,200.0 762.0,202.0 767.0,203.0 772.0,206.0 776.0,209.0 779.0,212.0 782.0,211.0 787.0,210.0 790.0,211.0 794.0,215.0 798.0,219.0 802.0,220.0 806.0,223.0 810.0,226.0 812.0,222.0 814.0,208.0 816.0,199.0 820.0,198.0 820.0,194.0 824.0,200.0 828.0,207.0 832.0,212.0 835.0,217.0 839.0,219.0 844.0,219.0 845.4,220.0 845.8,255.0 846.6,255.0 847.0,219.0 851.0,219.0 851.6,255.0 852.4,255.0 853.0,219.0 858.0,219.0 863.0,217.0 868.0,216.0 872.0,215.6 877.0,219.0 880.0,217.0 882.0,208.0 886.0,206.0 889.0,197.0 891.0,198.0 892.4,206.0 895.0,204.0 897.6,205.0 899.0,224.0 902.0,230.0 906.0,242.0 910.0,246.0 912.4,240.0 914.0,230.0 916.0,226.0 920.0,225.0 922.0,208.0 924.0,220.0 926.0,227.0 932.0,228.0 938.0,228.0 940.0,220.0 941.0,210.0 945.0,210.0 948.0,218.0 950.0,226.0 952.0,231.0 956.0,232.0 958.0,255.0 982.3,252.0 982.8,235.3 983.2,227.1 988.7,227.1 990.1,235.3 991.5,240.8 993.3,235.3 995.2,229.8 996.5,228.0 997.9,229.8 999.0,227.5 1000.7,233.5 1002.5,235.3 1005.2,235.3 1006.2,224.3 1015.3,224.3 1015.8,240.8 1019.9,240.8 1020.4,252.0 1047.9,252.0 1048.1,230.3 1058.0,230.3 1058.4,252.0 1058.4,255.0 1083.6,255.0 1084.0,247.0 1088.0,249.0 1089.0,255.0 1114.0,255.0 1130.0,255.0 651.6,255.0 651.0,236.0 649.0,216.0 646.4,220.0 645.0,236.0 643.0,234.0 641.0,222.0 639.6,228.0 638.0,238.0 633.0,238.0 632.0,232.0 630.0,220.0 627.0,210.0 624.0,217.0 620.0,219.0 617.0,208.0 615.0,198.0 610.0,197.0 609.0,190.0 608.0,180.0 606.6,172.0 605.0,160.0 603.0,148.0 601.0,138.0 598.0,131.0 595.0,132.0 591.0,127.0 587.0,125.0 583.0,126.0 579.0,123.0 573.0,122.0 567.0,121.0 563.0,120.0 559.0,121.0 553.0,120.0 547.0,121.0 543.0,120.0 537.0,118.0 531.0,118.0 527.0,122.0 525.0,120.0 519.0,123.0 513.0,125.0 507.0,127.0 503.0,131.0 501.0,138.0 497.0,137.0 491.0,133.0 485.0,134.4 479.0,133.6 472.0,133.0" fill="#fdbf6f" fill-opacity="0.3"/>
<polygon points="472.0,164.0 477.0,163.0 480.0,166.0 483.0,165.0 486.0,167.0 489.0,169.0 493.0,168.0 497.0,169.0 500.0,163.6 503.0,166.0 507.0,164.0 511.0,166.0 515.0,167.0 520.0,168.0 524.0,165.0 528.0,166.0 532.0,163.0 536.0,162.0 540.0,160.0 544.0,161.0 548.0,163.0 552.0,162.0 556.0,163.0 560.0,161.6 565.0,161.0 569.0,162.0 574.0,161.6 578.0,164.0 582.0,162.4 587.0,161.6 590.0,164.4 595.0,163.6 599.0,163.0 603.0,166.0 608.0,167.0 613.0,165.0 618.0,164.4 623.0,165.0 628.0,167.0 633.0,168.0 638.0,166.0 642.0,165.0 647.0,165.6 652.0,164.4 656.0,163.6 660.0,165.0 664.4,161.0 667.6,158.4 671.0,160.0 675.0,161.0 679.0,160.0 683.0,161.6 688.0,163.6 693.0,162.4 698.0,163.6 702.0,166.0 706.0,168.0 710.0,171.0 714.0,172.0 718.0,173.0 722.0,174.0 726.0,173.0 728.0,168.0 731.0,167.0 734.0,170.0 738.0,168.0 742.0,172.0 747.0,171.6 752.0,170.0 756.0,169.0 760.0,168.0 764.0,170.0 768.0,171.0 772.0,169.6 777.0,170.4 782.0,170.0 787.0,171.0 792.0,170.4 796.0,173.0 800.0,175.0 805.0,174.0 810.0,173.0 813.0,171.0 817.0,173.0 820.0,176.0 824.0,174.0 828.0,169.6 833.0,170.0 838.0,170.0 844.0,171.6 850.0,174.0 856.0,175.0 862.0,176.0 868.0,176.4 874.0,178.0 880.0,179.0 886.0,181.0 890.0,178.0 895.0,177.0 899.0,176.0 900.4,167.0 903.0,164.0 906.4,163.6 909.0,169.0 912.0,171.0 916.0,172.4 919.0,171.0 923.0,173.0 927.0,174.0 931.0,176.0 935.0,177.0 939.0,179.0 943.0,181.0 945.6,184.0 949.0,180.0 952.0,179.0 954.4,175.6 958.0,176.0 962.0,178.0 967.0,177.0 971.0,179.0 974.0,174.0 978.0,176.0 981.0,175.0 984.0,173.0 988.0,174.4 992.0,177.0 997.0,178.0 998.0,183.0 1002.0,184.0 1007.0,182.0 1012.0,180.0 1015.0,179.0 1016.4,173.0 1018.0,179.0 1022.0,180.0 1027.0,179.0 1030.0,177.0 1034.0,176.0 1038.0,177.0 1040.0,181.0 1045.0,180.0 1050.0,179.0 1055.0,178.0 1058.0,177.6 1064.0,178.0 1070.0,178.4 1076.0,178.0 1080.0,179.0 1081.6,185.0 1083.0,178.0 1088.0,177.6 1092.0,177.0 1093.6,175.0 1096.0,178.0 1102.0,179.0 1106.0,182.0 1108.4,179.6 1110.4,183.0 1112.0,187.0 1113.8,192.0 1114.0,255.0 1109.6,255.0 1109.0,238.0 1107.6,238.0 1107.0,255.0 1090.0,255.0 1088.0,247.0 1085.0,244.0 1085.0,245.0 1082.7,243.6 1080.4,241.7 1080.0,252.0 1051.9,252.0 1051.8,239.5 1050.3,239.5 1050.2,252.0 1047.4,252.0 1047.0,239.9 1045.1,239.0 1043.7,233.5 1042.4,227.1 1041.7,252.0 1039.2,252.0 1038.7,231.7 1037.8,213.3 1035.5,211.5 1033.2,212.0 1031.8,217.0 1030.0,215.2 1027.2,213.3 1025.0,211.0 1022.7,213.3 1020.8,219.7 1018.1,221.6 1015.8,225.2 1015.8,252.0 1011.2,252.0 1010.9,217.0 1006.9,217.0 1006.6,247.2 1002.1,247.2 1002.0,252.0 993.0,252.0 992.9,244.5 991.6,244.5 991.5,252.0 988.5,252.0 988.3,243.6 982.5,243.6 982.3,235.3 975.0,235.3 975.0,235.0 974.4,230.0 972.4,222.0 971.0,210.0 969.0,208.0 967.0,216.0 964.4,220.0 963.0,208.0 960.0,209.0 956.0,208.0 951.0,210.0 948.0,216.0 945.0,217.0 942.0,219.0 940.0,210.0 935.0,209.0 930.0,208.0 926.0,205.0 922.0,206.0 919.0,207.0 916.0,210.0 914.0,219.0 912.4,214.0 910.0,219.0 908.0,227.0 906.4,220.0 904.0,210.0 901.6,217.0 900.0,226.0 898.4,216.0 897.0,204.0 895.0,207.0 893.0,205.0 890.0,206.0 888.4,213.0 887.0,200.0 884.0,195.0 880.0,197.0 877.0,198.0 874.0,201.0 871.6,208.0 870.0,204.0 867.0,200.0 865.0,205.0 863.0,196.0 860.0,193.0 856.0,190.0 851.0,189.0 846.0,187.0 841.0,186.0 836.0,187.0 832.0,189.0 828.0,192.0 824.0,193.0 820.0,191.0 816.0,190.0 812.0,191.0 808.0,193.0 804.0,197.0 800.0,194.0 796.0,193.0 792.0,189.0 787.0,188.0 782.0,189.0 779.0,194.0 776.0,200.0 773.0,195.0 770.0,194.0 767.0,200.0 764.0,191.0 760.0,187.0 756.0,188.0 753.0,193.0 750.0,195.0 747.0,194.0 743.0,191.0 739.0,190.0 734.0,189.0 730.0,192.0 726.0,197.0 722.0,196.0 718.0,194.0 714.0,190.0 710.0,188.0 706.0,185.0 702.0,183.0 699.0,180.0 696.0,178.0 692.0,179.0 689.0,183.0 686.0,189.0 683.0,181.0 679.0,179.0 674.0,178.0 670.0,176.0 665.0,177.0 660.0,179.0 656.0,176.0 652.0,177.0 647.0,178.0 643.0,179.0 639.0,182.0 635.0,186.0 631.0,184.0 627.0,182.0 622.0,183.0 616.0,182.0 611.0,180.0 606.0,177.0 601.0,174.0 596.0,172.0 590.0,173.0 587.0,174.0 583.0,177.0 580.0,178.4 577.0,176.0 574.0,173.0 570.0,172.4 565.0,173.0 560.0,174.0 559.0,177.0 555.0,176.0 551.0,177.6 547.0,177.0 542.0,176.0 538.0,175.0 534.0,176.0 530.0,178.0 526.0,180.0 523.0,183.0 518.0,183.6 513.0,182.0 509.0,181.0 505.0,181.0 501.0,179.0 497.0,179.6 493.0,182.0 489.0,183.0 485.0,185.0 481.0,184.0 477.0,181.0 472.0,180.0" fill="#0000ff" fill-opacity="0.3"/>
<polyline points="472.0,121.0 479.0,121.0 485.0,120.4 491.0,121.0 497.0,120.4 500.0,118.0 503.0,115.0 506.0,112.4 510.0,111.0 515.0,110.4 521.0,110.0 527.0,109.6 533.0,108.6 539.0,108.0 545.0,107.6 551.0,107.0 557.0,107.0 563.0,107.0 568.0,106.4 572.0,104.4 575.0,102.4 579.0,103.0 584.0,102.0 588.0,102.4 592.0,104.0 595.0,107.6 598.0,112.0 600.6,118.0 603.0,127.0 605.0,136.0 607.0,146.0 608.6,160.0 608.6,166.0 609.2,180.0 610.0,188.0 613.0,187.0 616.0,186.0 619.0,190.0 622.0,192.4 625.0,194.4 628.0,197.0 630.6,205.0 633.0,198.0 636.0,196.0 639.0,194.0 642.0,191.6 644.4,196.0 648.0,193.0 651.0,199.0 654.0,202.0 657.0,204.0 659.6,209.0 662.4,207.0 664.4,210.0 666.0,222.0 669.0,234.0 671.6,225.0 674.0,225.6 677.0,225.0 679.6,216.0 682.0,211.0 684.4,209.0 687.0,204.0 689.4,202.0 691.0,200.0 692.4,209.0 693.6,219.0 695.6,212.0 698.0,211.0 700.4,213.0 702.4,204.0 705.0,203.6 707.6,209.0 710.0,207.0 712.0,213.0 714.4,209.0 716.4,219.0 718.4,228.0 721.0,232.0 723.6,230.0 725.6,224.0 728.0,223.0 730.0,226.0 732.4,230.0 734.4,224.0 737.0,221.0 739.0,210.0 741.0,206.0 743.0,211.0 745.6,206.0 748.0,205.0 750.0,210.0 752.4,216.0 755.0,225.0 757.6,231.0 760.0,237.0 761.6,238.0 763.6,226.0 765.0,220.0 766.4,221.0 768.0,230.0 770.0,237.0 773.0,239.0 776.0,238.0 778.4,239.0 780.0,255.0 782.0,255.0 783.6,228.0 785.0,221.0 787.0,219.0 789.0,226.0 790.6,234.0 791.2,255.0 801.6,255.0 802.0,242.4 803.2,242.4 803.6,255.0 859.4,255.0 859.8,236.0 861.4,233.6 865.0,233.6 866.2,236.0 866.6,255.0 887.0,255.0 888.4,236.0 889.6,230.0 891.0,238.0 893.0,242.0 897.0,244.0 900.0,246.0 900.4,255.0 939.6,255.0 939.8,241.2 942.8,241.2 943.0,255.0 1114.0,255.0" fill="none" stroke="#fdbf6f" stroke-width="4.4" stroke-linejoin="round"/>
<polyline points="472.8,172.9 476.9,172.9 479.2,177.5 483.8,178.9 487.0,174.8 489.7,174.3 492.5,177.0 494.8,174.3 497.0,173.8 499.8,175.7 502.1,173.4 506.7,172.0 510.3,172.5 514.9,169.7 517.7,172.0 521.3,172.9 525.0,174.8 528.2,173.4 531.0,170.6 533.3,172.5 537.8,170.2 541.5,165.6 544.3,167.0 547.9,167.0 550.7,168.8 556.2,168.8 559.4,166.0 561.7,164.7 564.0,164.7 566.3,167.0 569.0,166.0 572.2,165.1 574.5,166.0 577.3,169.3 580.0,170.6 580.0,172.0 583.0,170.0 586.0,169.0 589.0,167.0 590.0,168.0 594.0,168.0 598.0,166.0 601.0,169.0 605.0,172.0 610.0,172.0 615.0,171.6 620.0,170.4 625.0,170.4 629.0,173.0 632.0,176.4 635.0,177.0 638.0,174.0 641.0,171.6 644.0,169.6 647.0,171.6 650.0,170.0 653.0,168.4 655.6,168.0 658.0,170.4 661.0,173.0 664.0,170.0 667.0,168.0 670.0,170.0 673.0,170.4 676.0,171.6 679.0,169.0 681.6,166.4 684.0,169.0 687.0,168.0 690.0,167.6 693.0,167.0 696.0,169.0 699.0,172.0 702.0,171.0 705.0,173.6 708.0,177.0 711.0,179.0 714.0,178.0 717.0,181.0 720.0,182.0 723.0,181.0 725.6,184.0 728.0,179.0 730.0,175.6 732.4,179.0 735.0,180.0 738.0,179.0 741.0,181.0 744.0,180.0 747.0,181.0 749.0,183.6 751.6,179.0 755.0,177.6 758.0,179.0 761.0,177.6 764.0,178.4 767.0,180.0 770.0,179.0 772.4,177.0 775.0,181.0 777.0,184.0 779.6,180.0 782.0,178.4 785.0,177.0 788.0,176.0 791.0,177.6 794.0,180.0 797.0,182.4 800.0,182.0 803.0,184.4 806.0,183.0 810.0,181.6 814.0,181.0 818.0,181.6 820.0,181.0 823.0,183.0 826.0,187.0 829.0,182.0 832.0,181.0 835.0,179.0 839.0,176.4 843.0,178.0 846.0,178.4 848.4,176.0 851.0,184.0 854.0,182.0 857.0,181.0 860.0,180.0 862.4,185.0 865.6,187.6 869.0,184.0 872.0,183.6 875.0,185.0 878.0,187.0 881.0,191.0 884.0,189.0 887.0,190.4 890.0,190.0 893.0,191.6 897.0,191.6 900.0,195.0 903.0,190.0 906.0,186.4 909.0,188.4 912.0,188.0 915.0,190.0 918.0,187.0 920.0,194.0 922.4,187.6 925.0,188.0 927.0,194.4 930.0,194.4 933.0,194.0 935.0,188.4 938.0,189.0 941.0,193.0 944.0,191.0 948.0,193.0 952.0,195.0 956.0,198.0 959.0,197.0 962.0,195.0 965.0,194.0 968.0,189.6 971.0,191.6 973.0,188.0 975.6,187.0 978.0,193.0 981.0,198.0 983.6,204.0 986.0,211.0 988.4,211.0 991.0,204.0 994.0,201.0 996.4,199.0 999.0,207.0 1001.0,205.0 1003.6,195.0 1006.0,193.0 1008.4,198.0 1011.0,197.0 1014.0,196.0 1016.4,194.0 1018.0,188.0 1021.0,191.6 1024.0,192.0 1026.0,189.0 1029.0,195.0 1031.6,190.0 1034.0,194.0 1037.0,199.0 1040.0,200.0 1043.0,205.0 1047.0,207.0 1050.0,209.0 1052.0,208.0 1054.0,216.0 1056.0,215.6 1057.6,204.0 1058.4,193.0 1061.0,193.6 1063.0,195.0 1064.4,201.0 1068.0,201.0 1071.0,202.4 1073.6,203.0 1075.6,201.0 1078.0,210.0 1080.0,205.0 1082.4,208.0 1085.0,204.0 1088.0,203.0 1091.0,203.6 1091.6,188.0 1094.0,188.0 1096.4,186.4 1100.0,187.0 1102.0,192.0 1104.4,198.0 1107.0,194.0 1108.4,188.0 1110.0,198.0 1111.0,208.0 1113.0,212.0 1113.8,225.0" fill="none" stroke="#0000ff" stroke-width="4.3" stroke-linejoin="round"/>
<polyline points="472.8,172.9 476.9,172.9 479.2,177.5 483.8,178.9 487.0,174.8 489.7,174.3 492.5,177.0 494.8,174.3 497.0,173.8 499.8,175.7 502.1,173.4 506.7,172.0 510.3,172.5 514.9,169.7 517.7,172.0 521.3,172.9 525.0,174.8 528.2,173.4 531.0,170.6 533.3,172.5 537.8,170.2 541.5,165.6 544.3,167.0 547.9,167.0 550.7,168.8 556.2,168.8 559.4,166.0 561.7,164.7 564.0,164.7 566.3,167.0 569.0,166.0 572.2,165.1 574.5,166.0 577.3,169.3 580.0,170.6 580.0,172.0 583.0,170.0 586.0,169.0 589.0,167.0 590.0,168.0 594.0,168.0 598.0,166.0 601.0,169.0 605.0,172.0 610.0,172.0 615.0,171.6 620.0,170.4 625.0,170.4 629.0,173.0 632.0,176.4 635.0,177.0 638.0,174.0 641.0,171.6 644.0,169.6 647.0,171.6 650.0,170.0 653.0,168.4 655.6,168.0 658.0,170.4 661.0,173.0 664.0,170.0 667.0,168.0 670.0,170.0 673.0,170.4 676.0,171.6 679.0,169.0 681.6,166.4 684.0,169.0 687.0,168.0 690.0,167.6 693.0,167.0 696.0,169.0 699.0,172.0 702.0,171.0 705.0,173.6 708.0,177.0 711.0,179.0 714.0,178.0 717.0,181.0 720.0,182.0 723.0,181.0 725.6,184.0 728.0,179.0 730.0,175.6 732.4,179.0 735.0,180.0 738.0,179.0" fill="none" stroke="#0000ff" stroke-width="5.2" stroke-linejoin="round"/>
</g>
<line x1="602.0" y1="178.8" x2="602.0" y2="250.6" stroke="#1f77b4" stroke-width="1.7"/>
<line x1="600.8" y1="86.2" x2="600.8" y2="250.6" stroke="#000" stroke-width="2.0" stroke-dasharray="5.5,2.6" stroke-dashoffset="2.1"/>
<line x1="472.5" y1="85.9" x2="472.5" y2="251.4" stroke="#000" stroke-width="1.6"/>
<line x1="471.7" y1="250.6" x2="1114.7" y2="250.6" stroke="#000" stroke-width="1.6"/>
<line x1="472.5" y1="250.6" x2="472.5" y2="254.2" stroke="#000" stroke-width="1.5"/>
<line x1="600.8" y1="250.6" x2="600.8" y2="254.2" stroke="#000" stroke-width="1.5"/>
<line x1="729.1" y1="250.6" x2="729.1" y2="254.2" stroke="#000" stroke-width="1.5"/>
<line x1="857.3" y1="250.6" x2="857.3" y2="254.2" stroke="#000" stroke-width="1.5"/>
<line x1="985.6" y1="250.6" x2="985.6" y2="254.2" stroke="#000" stroke-width="1.5"/>
<line x1="1113.9" y1="250.6" x2="1113.9" y2="254.2" stroke="#000" stroke-width="1.5"/>
<line x1="468.5" y1="250.6" x2="472.5" y2="250.6" stroke="#000" stroke-width="1.5"/>
<text x="433.5" y="257.2" font-size="19.6" stroke="#000" stroke-width="0.31" text-anchor="start" textLength="22.0" lengthAdjust="spacingAndGlyphs" >10</text>
<text x="455.7" y="250.4" font-size="14.3" stroke="#000" stroke-width="0.23" text-anchor="start" textLength="8.7" lengthAdjust="spacingAndGlyphs" >0</text>
<line x1="468.5" y1="195.9" x2="472.5" y2="195.9" stroke="#000" stroke-width="1.5"/>
<text x="433.5" y="202.6" font-size="19.6" stroke="#000" stroke-width="0.31" text-anchor="start" textLength="22.0" lengthAdjust="spacingAndGlyphs" >10</text>
<text x="455.7" y="195.7" font-size="14.3" stroke="#000" stroke-width="0.23" text-anchor="start" textLength="8.7" lengthAdjust="spacingAndGlyphs" >2</text>
<line x1="468.5" y1="141.3" x2="472.5" y2="141.3" stroke="#000" stroke-width="1.5"/>
<text x="433.5" y="148.0" font-size="19.6" stroke="#000" stroke-width="0.31" text-anchor="start" textLength="22.0" lengthAdjust="spacingAndGlyphs" >10</text>
<text x="455.7" y="141.1" font-size="14.3" stroke="#000" stroke-width="0.23" text-anchor="start" textLength="8.7" lengthAdjust="spacingAndGlyphs" >4</text>
<line x1="468.5" y1="86.7" x2="472.5" y2="86.7" stroke="#000" stroke-width="1.5"/>
<text x="433.5" y="93.4" font-size="19.6" stroke="#000" stroke-width="0.31" text-anchor="start" textLength="22.0" lengthAdjust="spacingAndGlyphs" >10</text>
<text x="455.7" y="86.5" font-size="14.3" stroke="#000" stroke-width="0.23" text-anchor="start" textLength="8.7" lengthAdjust="spacingAndGlyphs" >6</text>
<text x="447.7" y="270.7" font-size="19.6" stroke="#000" stroke-width="0.31" text-anchor="start" textLength="49.6" lengthAdjust="spacingAndGlyphs" >−100</text>
<text x="594.9" y="270.7" font-size="19.6" stroke="#000" stroke-width="0.31" text-anchor="start" textLength="11.8" lengthAdjust="spacingAndGlyphs" >0</text>
<text x="711.5" y="270.7" font-size="19.6" stroke="#000" stroke-width="0.31" text-anchor="start" textLength="35.2" lengthAdjust="spacingAndGlyphs" >100</text>
<text x="839.7" y="270.7" font-size="19.6" stroke="#000" stroke-width="0.31" text-anchor="start" textLength="35.2" lengthAdjust="spacingAndGlyphs" >200</text>
<text x="968.0" y="270.7" font-size="19.6" stroke="#000" stroke-width="0.31" text-anchor="start" textLength="35.2" lengthAdjust="spacingAndGlyphs" >300</text>
<text x="1096.3" y="270.7" font-size="19.6" stroke="#000" stroke-width="0.31" text-anchor="start" textLength="35.2" lengthAdjust="spacingAndGlyphs" >400</text>
<text x="385.08" y="30.00" font-size="26.2" stroke="#000" stroke-width="0.47" textLength="45.03" lengthAdjust="spacingAndGlyphs">Not</text>
<text x="437.90" y="30.00" font-size="26.2" stroke="#000" stroke-width="0.47" textLength="77.79" lengthAdjust="spacingAndGlyphs">stable</text>
<text x="523.69" y="30.00" font-size="26.2" stroke="#000" stroke-width="0.47" textLength="52.32" lengthAdjust="spacingAndGlyphs">U2U</text>
<text x="584.91" y="30.00" font-size="26.2" stroke="#000" stroke-width="0.47" textLength="61.99" lengthAdjust="spacingAndGlyphs">pairs</text>
<text x="768.09" y="30.00" font-size="26.2" stroke="#000" stroke-width="0.47" textLength="80.61" lengthAdjust="spacingAndGlyphs">Stable</text>
<text x="856.67" y="30.00" font-size="26.2" stroke="#000" stroke-width="0.47" textLength="53.46" lengthAdjust="spacingAndGlyphs">U2U</text>
<text x="918.51" y="30.00" font-size="26.2" stroke="#000" stroke-width="0.47" textLength="61.99" lengthAdjust="spacingAndGlyphs">pairs</text>
<text x="465.08" y="649.40" font-size="32.0" stroke="#000" stroke-width="0.58" textLength="74.62" lengthAdjust="spacingAndGlyphs">Days</text>
<text x="550.32" y="649.40" font-size="32.0" stroke="#000" stroke-width="0.58" textLength="71.98" lengthAdjust="spacingAndGlyphs">after</text>
<text x="632.84" y="649.40" font-size="32.0" stroke="#000" stroke-width="0.58" textLength="78.92" lengthAdjust="spacingAndGlyphs">DWM</text>
<text x="721.70" y="649.40" font-size="32.0" stroke="#000" stroke-width="0.58" textLength="109.99" lengthAdjust="spacingAndGlyphs">closure</text>
<g transform="translate(23.00,455.90) rotate(-90)"><text x="0" y="0" font-size="32.0" stroke="#000" stroke-width="0.58" textLength="116.51" lengthAdjust="spacingAndGlyphs">Trading</text></g>
<g transform="translate(23.00,328.70) rotate(-90)"><text x="0" y="0" font-size="32.0" stroke="#000" stroke-width="0.58" textLength="111.58" lengthAdjust="spacingAndGlyphs">volume</text></g>
<g transform="translate(57.50,434.09) rotate(-90)"><text x="0" y="0" font-size="32.0" stroke="#000" stroke-width="0.58" textLength="89.79" lengthAdjust="spacingAndGlyphs">(meet</text></g>
<g transform="translate(57.50,333.54) rotate(-90)"><text x="0" y="0" font-size="32.0" stroke="#000" stroke-width="0.58" textLength="101.87" lengthAdjust="spacingAndGlyphs">inside)</text></g>
<text x="671.10" y="294.50" font-size="21.4" stroke="#000" stroke-width="0.39" textLength="50.81" lengthAdjust="spacingAndGlyphs">Days</text>
<text x="728.93" y="294.50" font-size="21.4" stroke="#000" stroke-width="0.39" textLength="48.18" lengthAdjust="spacingAndGlyphs">after</text>
<text x="783.09" y="294.50" font-size="21.4" stroke="#000" stroke-width="0.39" textLength="52.41" lengthAdjust="spacingAndGlyphs">DWM</text>
<text x="842.09" y="294.50" font-size="21.4" stroke="#000" stroke-width="0.39" textLength="74.20" lengthAdjust="spacingAndGlyphs">closure</text>
<g transform="translate(402.00,246.10) rotate(-90)"><text x="0" y="0" font-size="21.4" stroke="#000" stroke-width="0.39" textLength="76.99" lengthAdjust="spacingAndGlyphs">Trading</text></g>
<g transform="translate(402.00,161.29) rotate(-90)"><text x="0" y="0" font-size="21.4" stroke="#000" stroke-width="0.39" textLength="73.37" lengthAdjust="spacingAndGlyphs">volume</text></g>
<g transform="translate(425.30,239.48) rotate(-90)"><text x="0" y="0" font-size="21.4" stroke="#000" stroke-width="0.39" textLength="59.77" lengthAdjust="spacingAndGlyphs">(meet</text></g>
<g transform="translate(425.30,172.90) rotate(-90)"><text x="0" y="0" font-size="21.4" stroke="#000" stroke-width="0.39" textLength="82.79" lengthAdjust="spacingAndGlyphs">outside)</text></g>
</g>
</svg>
</body></html>
